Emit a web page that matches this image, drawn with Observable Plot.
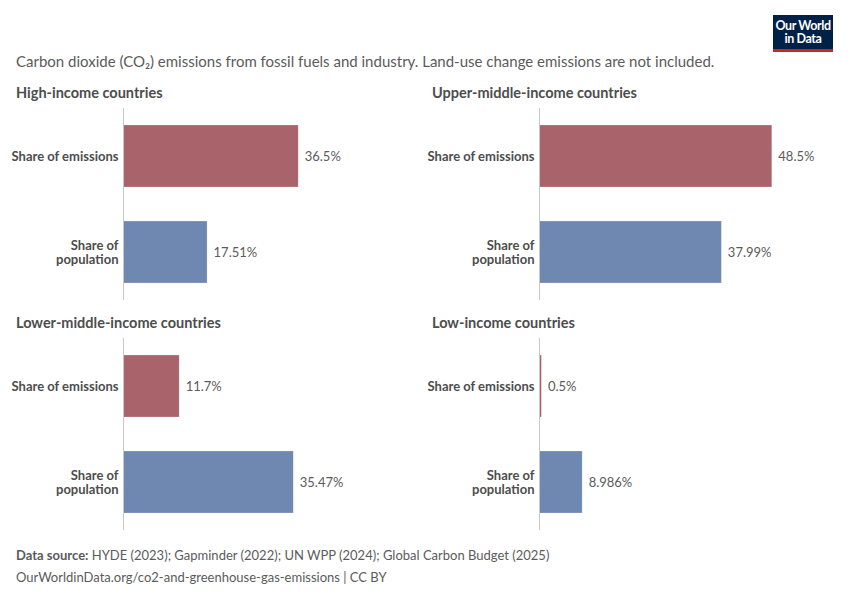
<!DOCTYPE html>
<html>
<head>
<meta charset="utf-8">
<script src="https://cdn.jsdelivr.net/npm/d3@7"></script>
<script src="https://cdn.jsdelivr.net/npm/@observablehq/plot@0.6"></script>
<style>
  html, body { margin: 0; padding: 0; background: #fff; }
  #root { position: relative; width: 850px; height: 600px; font-family: Lato, "Noto Sans", sans-serif; color: #5b5b5b; overflow: hidden; }
  .abs { position: absolute; white-space: nowrap; }
  .subtitle { left: 16px; top: 52px; font-size: 15px; line-height: 18px; color: #5b5b5b; }
  .ptitle { font-size: 14.5px; line-height: 18px; font-weight: 700; color: #4d4d4d; }
  .foot { left: 16px; font-size: 13px; line-height: 18px; color: #5b5b5b; }
  .logo { left: 773px; top: 15px; width: 60px; height: 34px; background: #002147; border-bottom: 3px solid #ce261e; color: #fff; font-size: 12.5px; font-weight: 700; line-height: 13.5px; text-align: center; display: flex; flex-direction: column; justify-content: center; letter-spacing: -0.4px; }
</style>
</head>
<body>
<div id="root"></div>
<script>
// ---- data ----
const panelTitles = ["High-income countries", "Upper-middle-income countries", "Lower-middle-income countries", "Low-income countries"];
const measures = ["Share of emissions", "Share of population"];
const emissionsShare = [36.5, 48.5, 11.7, 0.5];
const populationShare = [17.51, 37.99, 35.47, 8.986];
const measureColors = ["#a9636a", "#6e88b1"];
const subtitle = "Carbon dioxide (CO₂) emissions from fossil fuels and industry. Land-use change emissions are not included.";
const sourceText = "HYDE (2023); Gapminder (2022); UN WPP (2024); Global Carbon Budget (2025)";
const urlText = "OurWorldinData.org/co2-and-greenhouse-gas-emissions | CC BY";

const root = document.getElementById("root");
function addDiv(cls, html, left, top) {
  const d = document.createElement("div");
  d.className = "abs " + cls;
  d.innerHTML = html;
  if (left != null) d.style.left = left + "px";
  if (top != null) d.style.top = top + "px";
  root.appendChild(d);
  return d;
}

addDiv("logo", "<div>Our World</div><div>in Data</div>");
addDiv("subtitle", subtitle);
addDiv("foot", "<b>Data source:</b> " + sourceText, 16, 546);
addDiv("foot", urlText, 16, 568);

const panelPos = [
  {left: 0, top: 108, titleLeft: 16, titleTop: 84},
  {left: 416, top: 108, titleLeft: 432, titleTop: 84},
  {left: 0, top: 338, titleLeft: 16, titleTop: 314},
  {left: 416, top: 338, titleLeft: 432, titleTop: 314}
];

panelTitles.forEach((title, i) => {
  const pos = panelPos[i];
  addDiv("ptitle", title, pos.titleLeft, pos.titleTop);
  const data = [
    {measure: measures[0], value: emissionsShare[i]},
    {measure: measures[1], value: populationShare[i]}
  ];
  const chart = Plot.plot({
    width: 416,
    height: 192,
    marginLeft: 123,
    marginRight: 53,
    marginTop: 0,
    marginBottom: 0,
    style: {fontFamily: "Lato, 'Noto Sans', sans-serif", background: "transparent", overflow: "visible"},
    x: {domain: [0, 50], axis: null},
    y: {domain: measures, paddingInner: 0.35, paddingOuter: 0.165, align: 0.5, axis: null},
    color: {domain: measures, range: measureColors},
    marks: [
      Plot.barX(data, {y: "measure", x: "value", fill: "measure", stroke: "#fff", strokeOpacity: 0.4, strokeWidth: 0.6}),
      Plot.ruleX([0], {stroke: "#c8c8c8", strokeWidth: 1}),
      Plot.axisY({
        label: null, tickSize: 0, tickPadding: 5, fontSize: 13, fontWeight: 700, color: "#4d4d4d", lineHeight: 1.1,
        tickFormat: d => d === "Share of population" ? "Share of\npopulation" : d
      }),
      Plot.text(data, {y: "measure", x: "value", text: d => d.value + "%", dx: 6, textAnchor: "start", fontSize: 13, fill: "#5b5b5b"})
    ]
  });
  chart.style.position = "absolute";
  chart.style.left = pos.left + "px";
  chart.style.top = pos.top + "px";
  root.appendChild(chart);
});
</script>
</body>
</html>
